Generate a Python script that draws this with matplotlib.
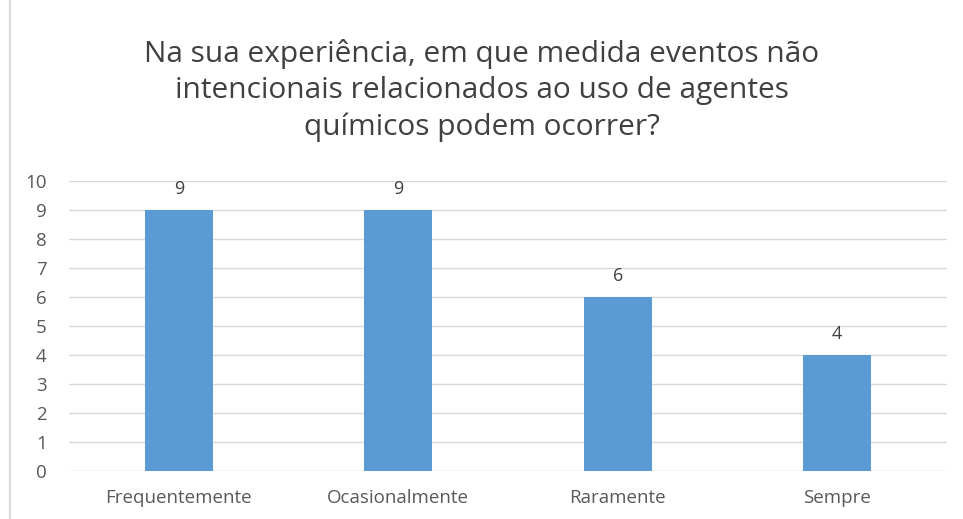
import matplotlib.pyplot as plt
from matplotlib.lines import Line2D

categories = ["Frequentemente", "Ocasionalmente", "Raramente", "Sempre"]
values = [9, 9, 6, 4]
title = ("Na sua experiência, em que medida eventos não\n"
         "intencionais relacionados ao uso de agentes\n"
         "químicos podem ocorrer?")

plt.rcParams['font.family'] = ['Open Sans', 'DejaVu Sans']

fig = plt.figure(figsize=(9.63, 5.19), dpi=100)
ax = fig.add_axes([0.0717, 0.0925, 0.9117, 0.5588])

x = range(len(categories))
bars = ax.bar(x, values, width=0.31, color="#5B9BD5", zorder=3)

for b, v in zip(bars, values):
    ax.text(b.get_x() + b.get_width() / 2, v + 0.4, str(v),
            ha="center", va="bottom", fontsize=13, color="#404040")

ax.set_xlim(-0.5, len(categories) - 0.5)
ax.set_ylim(0, 10)
ax.set_yticks(range(0, 11))
ax.set_xticks(list(x))
ax.set_xticklabels(categories)
ax.grid(axis="y", color="#D9D9D9", linewidth=1, zorder=0)
for s in ax.spines.values():
    s.set_visible(False)
ax.tick_params(length=0, labelsize=13.5, labelcolor="#595959")
ax.tick_params(axis="y", pad=16)
ax.tick_params(axis="x", pad=13)

fig.text(0.5, 0.826, title, ha="center", va="center", fontsize=21.5,
         color="#404040", linespacing=1.33)

fig.add_artist(Line2D([0.0105, 0.0105], [0, 1], color="#D9D9D9", linewidth=1.5,
                      transform=fig.transFigure))

fig.savefig("out.png", dpi=100)
